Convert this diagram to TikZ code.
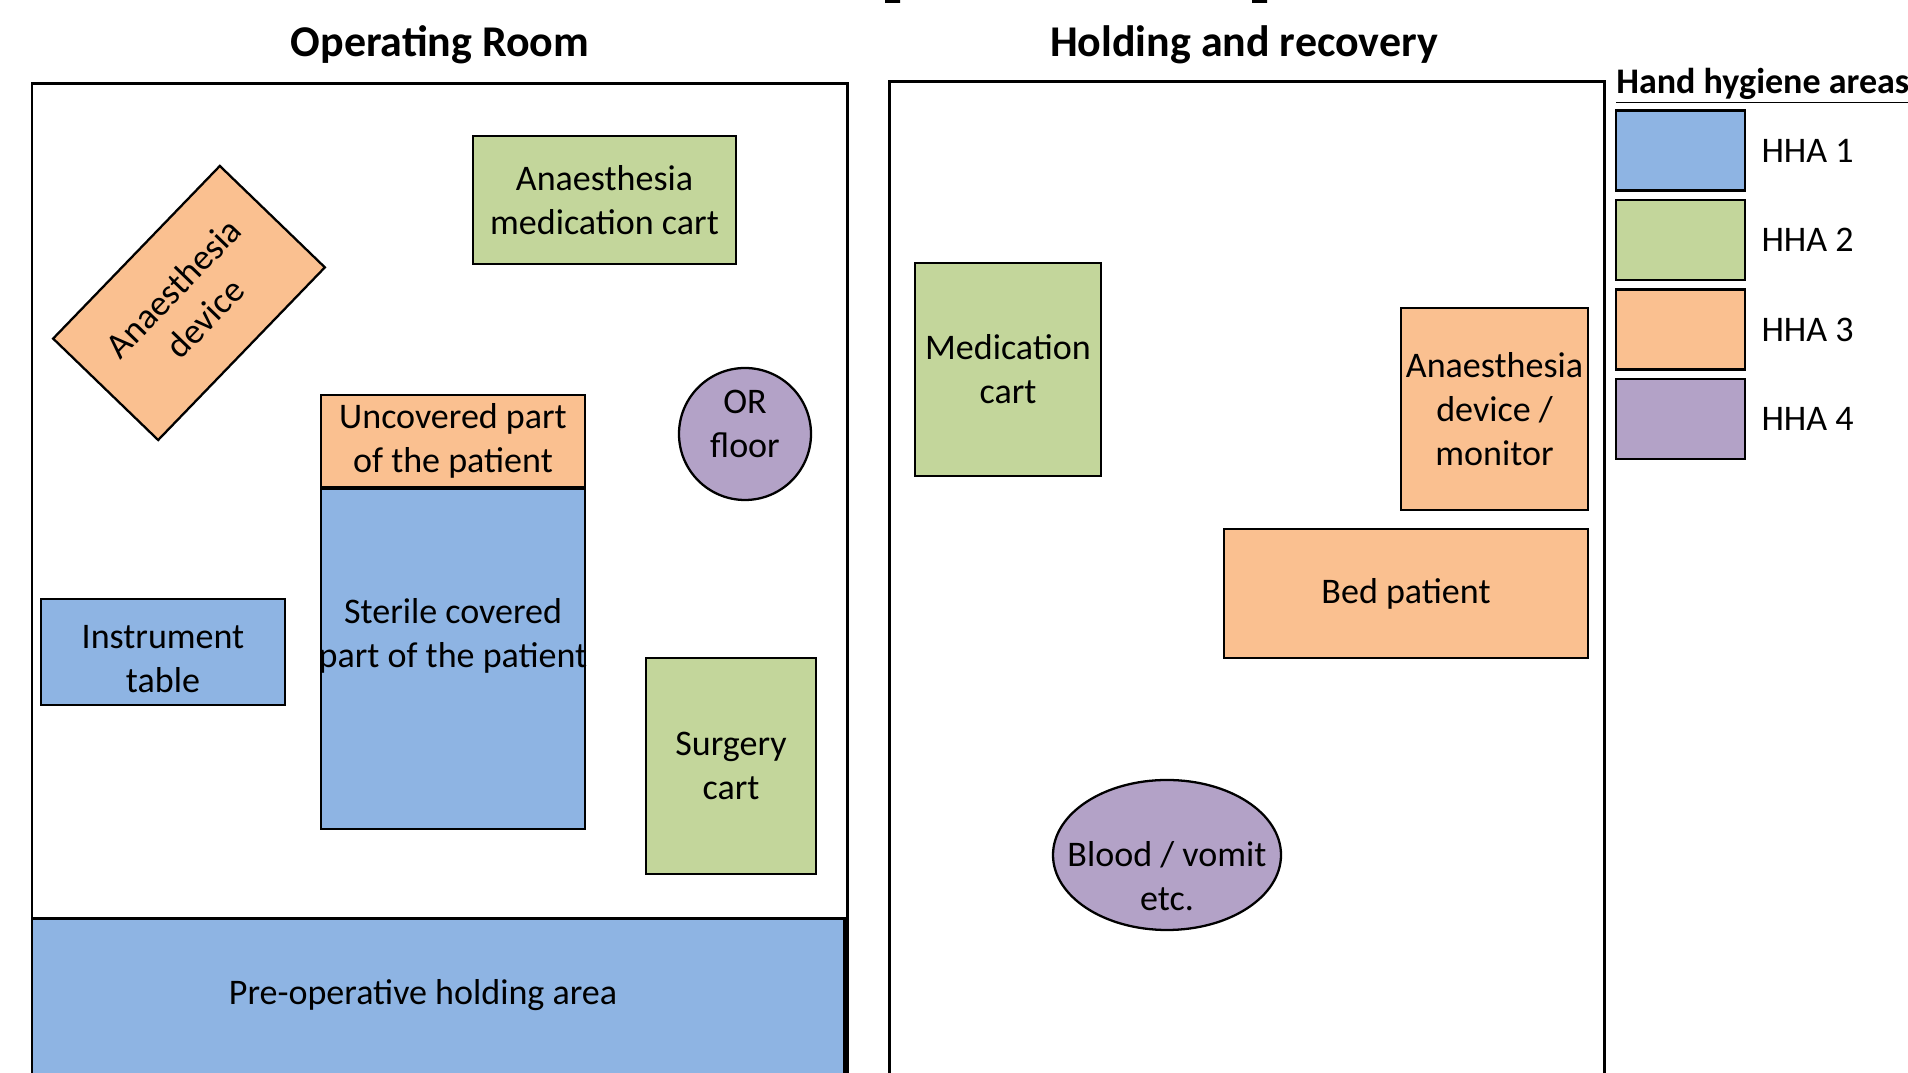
\documentclass[tikz,border=0pt]{standalone}
\usepackage{fontspec}
\setmainfont{Carlito}
\usetikzlibrary{positioning}
\usetikzlibrary{shapes.geometric}
\definecolor{hhablue}{HTML}{8EB4E3}
\definecolor{hhagreen}{HTML}{C3D69B}
\definecolor{hhaorange}{HTML}{FAC090}
\definecolor{hhapurple}{HTML}{B3A2C7}
\tikzset{
	wall/.style={line width=1.7pt},
	zone/.style={draw, line width=1.3pt, align=center, inner sep=1pt,
		font=\fontsize{20.5}{25}\selectfont},
	hhaone/.style={zone, fill=hhablue},
	hhatwo/.style={zone, fill=hhagreen},
	hhathree/.style={zone, fill=hhaorange},
	hhafour/.style={zone, fill=hhapurple},
	zonetext/.style={align=center, inner sep=0pt, font=\fontsize{20.5}{25}\selectfont},
	title/.style={font=\fontsize{25}{30}\selectfont\bfseries}
}

\begin{document}
\begin{tikzpicture}[scale=1]
	\useasboundingbox (0,0) rectangle (38.16,21.46);
	\fill (17.70,21.40) rectangle (18.00,21.50) (25.04,21.40) rectangle (25.34,21.50);

	\node[title] (ortitle) at (8.8,20.56) {Operating Room};
	\node[title] (hrtitle) at (24.88,20.56) {Holding and recovery};

	\draw[wall] (0.64,-0.3) -- (0.64,19.78) -- (16.94,19.78) -- (16.94,-0.3);
	\draw[wall] (17.78,-0.3) -- (17.78,19.82) -- (32.08,19.82) -- (32.08,-0.3);

	\node[hhaone,line width=1.7pt,minimum width=16.24cm,minimum height=3.38cm] (preop) at (8.76,1.39) {};
	\node[zonetext] (preoptext) at (8.46,1.56) {Pre-operative holding area};

	\node[hhathree,rotate=46,minimum width=4.8cm,minimum height=2.92cm] (anadev) at (3.78,15.40) {Anaesthesia\\device};
	\node[hhatwo,minimum width=5.26cm,minimum height=2.56cm] (anamed) at (12.09,17.46) {Anaesthesia\\medication cart};
	\node[hhafour,circle,minimum size=2.64cm] (floor) at (14.9,12.78) {};
	\node[zonetext] (floortext) at ([yshift=0.2cm]floor.center) {OR\\floor};
	\node[hhathree,minimum width=5.28cm,minimum height=1.84cm] (uncov) at (9.06,12.64) {Uncovered part\\of the patient};
	\node[hhaone,minimum width=5.28cm,minimum height=6.8cm,below=0pt of uncov] (steril) {};
	\node[zonetext] (steriltext) at ([yshift=0.46cm]steril.center) {Sterile covered\\part of the patient};
	\node[hhaone,minimum width=4.88cm,minimum height=2.12cm] (instr) at (3.26,8.42) {};
	\node[zonetext] (instrtext) at ([yshift=-0.14cm]instr.center) {Instrument\\table};
	\node[hhatwo,minimum width=3.4cm,minimum height=4.32cm] (surg) at (14.62,6.14) {Surgery\\cart};

	\node[hhatwo,minimum width=3.72cm,minimum height=4.26cm] (medcart) at (20.16,14.07) {Medication\\cart};
	\node[hhathree,minimum width=3.74cm,minimum height=4.04cm] (monitor) at (29.89,13.28) {Anaesthesia\\device /\\monitor};
	\node[hhathree,minimum width=7.28cm,minimum height=2.58cm] (bed) at (28.12,9.59) {Bed patient};
	\node[hhafour,ellipse,minimum width=4.56cm,minimum height=3.0cm] (blood) at (23.34,4.36) {};
	\node[zonetext] (bloodtext) at ([yshift=-0.42cm]blood.center) {Blood / vomit\\etc.};

	\node[anchor=west,inner sep=0pt,font=\fontsize{20.5}{24}\selectfont\bfseries] (legtitle) at (32.32,19.74) {\underline{Hand hygiene areas}};
	\foreach \c/\t [count=\i] in {hhablue/HHA 1,hhagreen/HHA 2,hhaorange/HHA 3,hhapurple/HHA 4}
	{
		\node[zone,fill=\c,minimum width=2.58cm,minimum height=1.6cm] (leg\i) at (33.61,{18.45-1.79*(\i-1)}) {};
		\node[zonetext,right=0.3cm of leg\i] (lab\i) {\t};
	}
\end{tikzpicture}
\end{document}
